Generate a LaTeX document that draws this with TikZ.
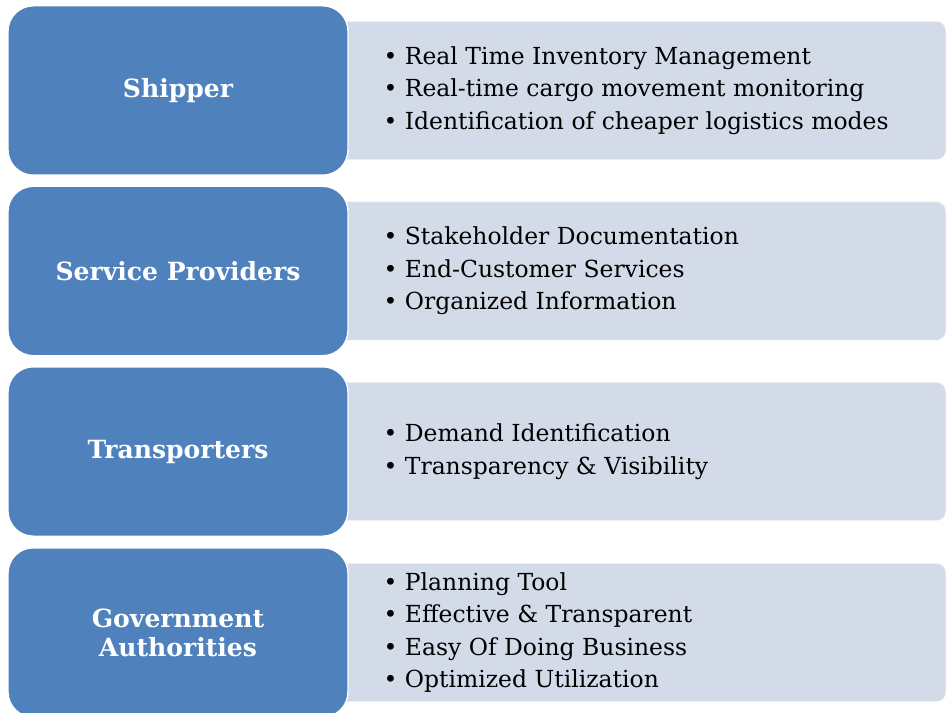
\documentclass[tikz,border=0pt]{standalone}
\usepackage{fontspec}
\setmainfont{DejaVu Serif}
\usetikzlibrary{positioning}

% Colours of the two box kinds
\definecolor{roleblue}{HTML}{4F81BD}
\definecolor{detailgrey}{HTML}{D4DBE8}

\tikzset{
  rolebox/.style={draw=white, line width=1pt, fill=roleblue,
    rounded corners=19pt, minimum width=255pt, minimum height=127pt,
    text=white, align=center,
    font=\bfseries\fontsize{18.8}{21.8}\selectfont},
  detailbox/.style={draw=white!90!detailgrey, line width=0.6pt, fill=detailgrey,
    rounded corners=7pt, minimum width=462pt, minimum height=104pt},
  itemlist/.style={align=left, inner sep=0pt, anchor=west,
    font=\fontsize{17.6}{24.4}\selectfont}
}

\begin{document}
\begin{tikzpicture}[x=0.75pt,y=-0.75pt]

    % Page frame, in pixels of the reference
    \useasboundingbox (0,0) rectangle (947,713);

    % Grey detail boxes behind the role boxes
    \node[detailbox] (ship-bg) at (638, 90.5) {};
    \node[detailbox] (serv-bg) at (638, 271) {};
    \node[detailbox] (trans-bg) at (638, 451.5) {};
    \node[detailbox] (gov-bg) at (638, 632.5) {};

    % Blue role boxes
    \node[rolebox] (ship) at (178, 90.5) {Shipper};
    \node[rolebox] (serv) at (178, 271) {Service Providers};
    \node[rolebox] (trans) at (178, 451.5) {Transporters};
    \node[rolebox] (gov) at (178, 632.5) {Government\\Authorities};

    % Bullet lists, to the right of each role
    \node[itemlist, right=26pt of ship] (ship-list) {%
      • Real Time Inventory Management\\
      • Real-time cargo movement monitoring\\
      • Identification of cheaper logistics modes};
    \node[itemlist, right=26pt of serv] (serv-list) {%
      • Stakeholder Documentation\\
      • End-Customer Services\\
      • Organized Information};
    \node[itemlist, right=26pt of trans] (trans-list) {%
      • Demand Identification\\
      • Transparency \& Visibility};
    \node[itemlist, right=26pt of gov] (gov-list) {%
      • Planning Tool\\
      • Effective \& Transparent\\
      • Easy Of Doing Business\\
      • Optimized Utilization};

\end{tikzpicture}
\end{document}
